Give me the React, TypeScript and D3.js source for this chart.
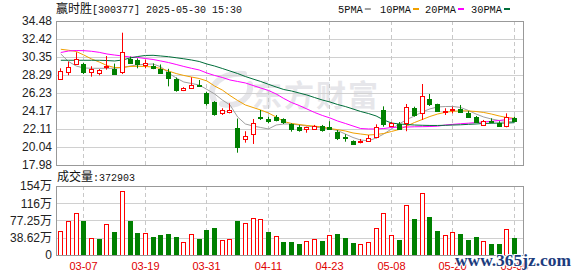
import React from "react";
import * as d3 from "d3";

const dates = [
  "03-04","03-05","03-06","03-07","03-10","03-11","03-12","03-13","03-14","03-17",
  "03-18","03-19","03-20","03-21","03-24","03-25","03-26","03-27","03-28","03-31",
  "04-01","04-02","04-03","04-07","04-08","04-09","04-10","04-11","04-14","04-15",
  "04-16","04-17","04-18","04-21","04-22","04-23","04-24","04-25","04-28","04-29",
  "04-30","05-06","05-07","05-08","05-09","05-12","05-13","05-14","05-15","05-16",
  "05-19","05-20","05-21","05-22","05-23","05-26","05-27","05-28","05-29","05-30",
];
const opens = [
  27.85,28.60,29.60,29.60,28.67,28.49,29.24,29.00,28.58,30.17,
  30.05,29.40,29.34,29.02,28.67,27.85,26.52,26.77,27.15,26.25,
  25.23,23.94,24.02,22.19,20.96,21.50,23.52,23.22,23.44,23.22,
  22.64,22.30,22.07,22.07,22.45,22.37,21.80,21.23,20.73,20.66,
  20.77,21.15,24.28,22.45,22.70,22.76,24.48,23.90,25.51,24.97,
  24.05,24.25,24.36,23.90,23.44,22.56,23.06,22.83,22.45,23.33,
];
const highs = [
  29.06,29.82,30.90,29.70,29.30,28.97,30.47,29.60,33.14,30.40,
  30.20,30.05,29.62,29.50,29.00,28.00,26.90,28.03,27.72,26.35,
  25.30,24.48,25.05,23.30,21.85,23.25,24.28,23.52,23.71,23.33,
  22.76,22.57,22.37,22.57,22.57,23.00,21.99,21.50,20.80,20.96,
  21.42,22.64,24.70,22.90,22.90,24.97,24.66,27.26,26.12,25.00,
  24.48,24.66,24.86,24.17,23.60,23.14,23.33,23.00,23.90,23.52,
];
const lows = [
  27.72,28.26,29.44,28.40,28.10,28.26,28.90,28.41,28.40,29.60,
  29.06,29.06,28.96,28.50,26.99,26.38,26.45,26.77,26.92,24.80,
  23.63,23.71,23.90,19.39,20.54,20.39,23.14,22.76,22.98,22.68,
  21.80,21.80,21.68,21.99,21.80,22.05,20.84,20.65,20.35,20.46,
  20.73,21.04,22.37,22.40,21.99,21.85,23.52,23.14,24.74,24.09,
  23.71,23.90,23.98,23.52,22.87,22.45,22.76,22.37,22.30,22.94,
];
const closes = [
  28.80,29.18,30.16,28.58,29.00,28.87,29.38,28.45,30.89,29.66,
  29.55,29.62,29.15,28.56,27.90,26.57,26.80,27.15,27.03,25.12,
  23.80,24.28,24.32,20.01,21.30,22.76,23.33,23.06,23.14,22.94,
  22.07,21.99,22.30,22.45,21.99,22.14,21.06,21.02,20.38,20.73,
  21.04,22.37,22.68,22.76,22.15,24.59,23.71,25.89,24.94,24.20,
  24.22,24.36,24.02,23.52,22.94,22.98,22.91,22.45,23.44,22.99,
];
// volume in 万手
const volumes = [
  53.7,76.8,94.0,76.8,38.0,36.5,69.4,52.2,143.3,76.8,
  50.0,49.3,41.0,45.4,47.7,41.0,29.0,47.0,35.0,56.6,
  61.0,34.3,36.5,76.8,71.6,82.8,80.6,52.2,42.5,29.8,
  29.8,25.3,32.0,36.5,32.0,44.8,47.7,38.7,27.5,25.3,
  29.0,60.4,94.0,44.8,34.3,112.0,80.6,138.8,85.7,54.4,
  44.8,51.5,47.7,34.3,41.0,32.0,25.3,25.3,58.2,37.2903,
];
const ma5 = [
  30.70,29.84,29.32,29.10,29.06,29.06,29.06,29.06,29.15,29.32,
  29.46,29.52,29.55,29.24,28.52,27.95,27.49,27.32,27.15,26.64,
  26.12,25.43,24.86,23.48,22.68,22.45,22.28,22.11,22.56,22.68,
  22.68,22.56,22.45,22.33,22.22,22.11,21.93,21.53,21.13,20.84,
  20.76,21.07,21.53,22.11,22.68,23.19,23.60,24.06,24.41,24.63,
  24.68,24.69,24.57,24.23,23.82,23.48,23.25,23.08,22.96,22.94,
];
const ma10 = [
  31.24,31.13,30.99,30.58,30.13,29.78,29.38,29.15,29.15,29.27,
  29.29,29.27,29.21,29.04,28.75,28.46,28.24,28.06,27.89,27.61,
  27.03,26.57,25.94,25.37,24.86,24.57,24.28,23.94,23.48,22.96,
  22.74,22.62,22.51,22.43,22.34,22.16,22.03,21.88,21.65,21.53,
  21.42,21.47,21.59,21.82,22.05,22.45,22.85,23.19,23.54,23.82,
  24.02,24.13,24.19,24.17,24.11,24.00,23.82,23.60,23.42,23.33,
];
const ma20 = [
  30.87,31.04,31.10,31.08,31.01,30.89,30.70,30.58,30.47,30.35,
  30.30,30.18,30.07,29.90,29.72,29.50,29.27,29.06,28.87,28.52,
  28.24,28.01,27.72,27.55,27.38,27.09,26.80,26.52,26.12,25.60,
  25.14,24.80,24.40,24.00,23.66,23.37,23.02,22.74,22.45,22.16,
  22.11,22.11,22.16,22.28,22.31,22.33,22.36,22.37,22.39,22.43,
  22.56,22.64,22.71,22.77,22.84,22.91,22.99,23.08,23.19,23.33,
];
const ma30 = [
  29.98,29.98,29.98,29.98,29.98,29.98,29.95,29.90,30.01,30.24,
  30.41,30.53,30.55,30.47,30.39,30.27,30.15,30.01,29.84,29.55,
  29.32,29.04,28.75,28.46,28.12,27.83,27.55,27.23,26.92,26.63,
  26.46,26.23,26.00,25.71,25.43,25.20,24.91,24.68,24.40,24.11,
  23.88,23.60,23.14,22.79,22.68,22.62,22.56,22.53,22.51,22.51,
  22.53,22.56,22.59,22.64,22.68,22.74,22.76,22.79,22.79,22.83,
];
const priceTickValues = [34.48, 32.42, 30.35, 28.29, 26.23, 24.17, 22.11, 20.04, 17.98];
const priceTickLabels = ["34.48","32.42","30.35","28.29","26.23","24.17","22.11","20.04","17.98"];
const volTickValues = [154.48, 115.86, 77.25, 38.62, 0];
const volTickLabels = ["154万","116万","77.25万","38.62万","0"];
const dateTickLabels = ["03-07","03-19","03-31","04-11","04-23","05-08","05-20","05-30"];
const stockName = "赢时胜";
const stockInfo = "[300377] 2025-05-30 15:30";
const volTitle = "成交量";
const volValue = ":372903";
const maNames = ["5PMA", "10PMA", "20PMA", "30PMA"];
const maColors = ["#a0a0a0", "#f0a000", "#ff00ff", "#006e3a"];

const W = 578, H = 276;
const L = 56, R = 523;
const pTop = 21, pBot = 165;
const vTop = 186, vBot = 255;
const RED = "#ff0000";
const GREEN = "#008000";

export default function App() {
  const n = dates.length;
  const x = d3.scaleLinear().domain([0, n - 1]).range([60.3, 514]);
  const y = d3.scaleLinear().domain([17.98, 34.48]).range([pBot, pTop]);
  const yv = d3.scaleLinear().domain([0, 154.48]).range([vBot, vTop]);
  const cx = (i: number) => Math.round(x(i));
  const tickIdx = dateTickLabels.map((d) => dates.indexOf(d));
  const mas = [ma5, ma10, ma20, ma30];
  const line = d3.line<number>().x((_, i) => x(i) + 0.5).y((d) => y(d));

  const font = "'Liberation Sans', 'Noto Sans CJK SC', sans-serif";
  const mono = "'Liberation Mono', monospace";
  const cjk = "'Noto Sans CJK SC', sans-serif";

  return (
    <svg width={W} height={H} style={{ position: "absolute", left: 0, top: 0, background: "#fff" }}>
      <rect x={0} y={0} width={W} height={H} fill="#fff" />
      {/* watermark */}
      <path d="M214,100 C206,86 222,72 244,74 M222,104 C240,108 252,96 250,84" fill="none" stroke="#e6e6ea" strokeWidth={6} strokeLinecap="round" />
      <text x={252} y={106} fontFamily={cjk} fontWeight={700} fontSize={30} fill="#e6e6ea" letterSpacing={2}>东方财富</text>

      {/* grid */}
      {priceTickValues.slice(1, -1).map((v, k) => (
        <line key={"pg" + k} x1={L} x2={R} y1={Math.round(y(v)) + 0.5} y2={Math.round(y(v)) + 0.5} stroke="#d0d0d0" />
      ))}
      {volTickValues.slice(1, -1).map((v, k) => (
        <line key={"vg" + k} x1={L} x2={R} y1={Math.round(yv(v)) + 0.5} y2={Math.round(yv(v)) + 0.5} stroke="#d0d0d0" />
      ))}
      {tickIdx.map((i, k) => (
        <g key={"xg" + k}>
          <line x1={cx(i) + 0.5} x2={cx(i) + 0.5} y1={pTop} y2={pBot} stroke="#c8c8c8" strokeDasharray="4,3" />
          <line x1={cx(i) + 0.5} x2={cx(i) + 0.5} y1={vTop} y2={vBot} stroke="#c8c8c8" strokeDasharray="4,3" />
        </g>
      ))}

      {/* MA lines */}
      {mas.map((m, k) => (
        <path key={"ma" + k} d={line(m) || ""} fill="none" stroke={maColors[k]} strokeWidth={1} />
      ))}

      {/* candles */}
      {dates.map((d, i) => {
        const o = opens[i], c = closes[i], h = highs[i], l = lows[i];
        const up = c >= o;
        const col = up ? RED : GREEN;
        const xc = cx(i);
        const top = Math.round(y(Math.max(o, c)));
        const bot = Math.max(Math.round(y(Math.min(o, c))), top + 1);
        return (
          <g key={"c" + i}>
            <line x1={xc + 0.5} x2={xc + 0.5} y1={y(h)} y2={y(l)} stroke={col} />
            {up ? (
              <rect x={xc - 2 + 0.5} y={top + 0.5} width={4} height={bot - top} fill="#fff" stroke={col} />
            ) : (
              <rect x={xc - 2} y={top} width={5} height={bot - top + 1} fill={col} />
            )}
          </g>
        );
      })}

      {/* volume bars */}
      {volumes.map((v, i) => {
        const up = i === 0 ? closes[i] >= opens[i] : closes[i] >= closes[i - 1];
        const xc = cx(i);
        const t = Math.round(yv(v));
        return up ? (
          <rect key={"v" + i} x={xc - 2 + 0.5} y={t + 0.5} width={4} height={vBot - t} fill="#fff" stroke={RED} />
        ) : (
          <rect key={"v" + i} x={xc - 2} y={t} width={5} height={vBot - t + 1} fill={GREEN} />
        );
      })}

      {/* frames */}
      <rect x={L + 0.5} y={pTop + 0.5} width={R - L} height={pBot - pTop} fill="none" stroke="#999" />
      <rect x={L + 0.5} y={vTop + 0.5} width={R - L} height={vBot - vTop} fill="none" stroke="#999" />

      {/* y labels */}
      {priceTickValues.map((v, k) => (
        <text key={"pl" + k} x={52} y={y(v)} dy="0.36em" textAnchor="end" fontFamily={font} fontSize={12} fill="#222">{priceTickLabels[k]}</text>
      ))}
      {volTickValues.map((v, k) => (
        <text key={"vl" + k} x={52} y={yv(v)} dy="0.36em" textAnchor="end" fontFamily={font} fontSize={12} fill="#222">{volTickLabels[k]}</text>
      ))}
      {/* x labels */}
      {tickIdx.map((i, k) => (
        <text key={"xl" + k} x={cx(i) + 0.5} y={270} textAnchor="middle" fontFamily={font} fontSize={11} fill="#e00000">{dateTickLabels[k]}</text>
      ))}

      {/* title */}
      <text x={56} y={13} fontFamily={cjk} fontSize={12} fill="#111">{stockName}</text>
      <text x={92} y={13} fontFamily={mono} fontSize={11.5} fill="#111" textLength={150} lengthAdjust="spacingAndGlyphs">{stockInfo}</text>
      <text x={57} y={181} fontFamily={cjk} fontSize={12} fill="#111">{volTitle}</text>
      <text x={93} y={181} fontFamily={mono} fontSize={11.5} fill="#111" textLength={42} lengthAdjust="spacingAndGlyphs">{volValue}</text>

      {/* legend */}
      {maNames.map((nm, k) => {
        const xs = [338, 380, 425, 471][k];
        const wd = nm.length * 6.2;
        return (
          <g key={"lg" + k}>
            <text x={xs} y={13} fontFamily={mono} fontSize={11.5} fill="#111" textLength={wd} lengthAdjust="spacingAndGlyphs">{nm}</text>
            <rect x={xs + wd + 2} y={8} width={6} height={2} fill={maColors[k]} />
          </g>
        );
      })}

      {/* site watermark */}
      <text x={455} y={266} fontFamily="'Liberation Serif', serif" fontWeight={700} fontSize={17} fill="#1c3c7e" stroke="#ffffff" strokeWidth={2} paintOrder="stroke" textLength={116} lengthAdjust="spacingAndGlyphs">www.365jz.com</text>
    </svg>
  );
}
